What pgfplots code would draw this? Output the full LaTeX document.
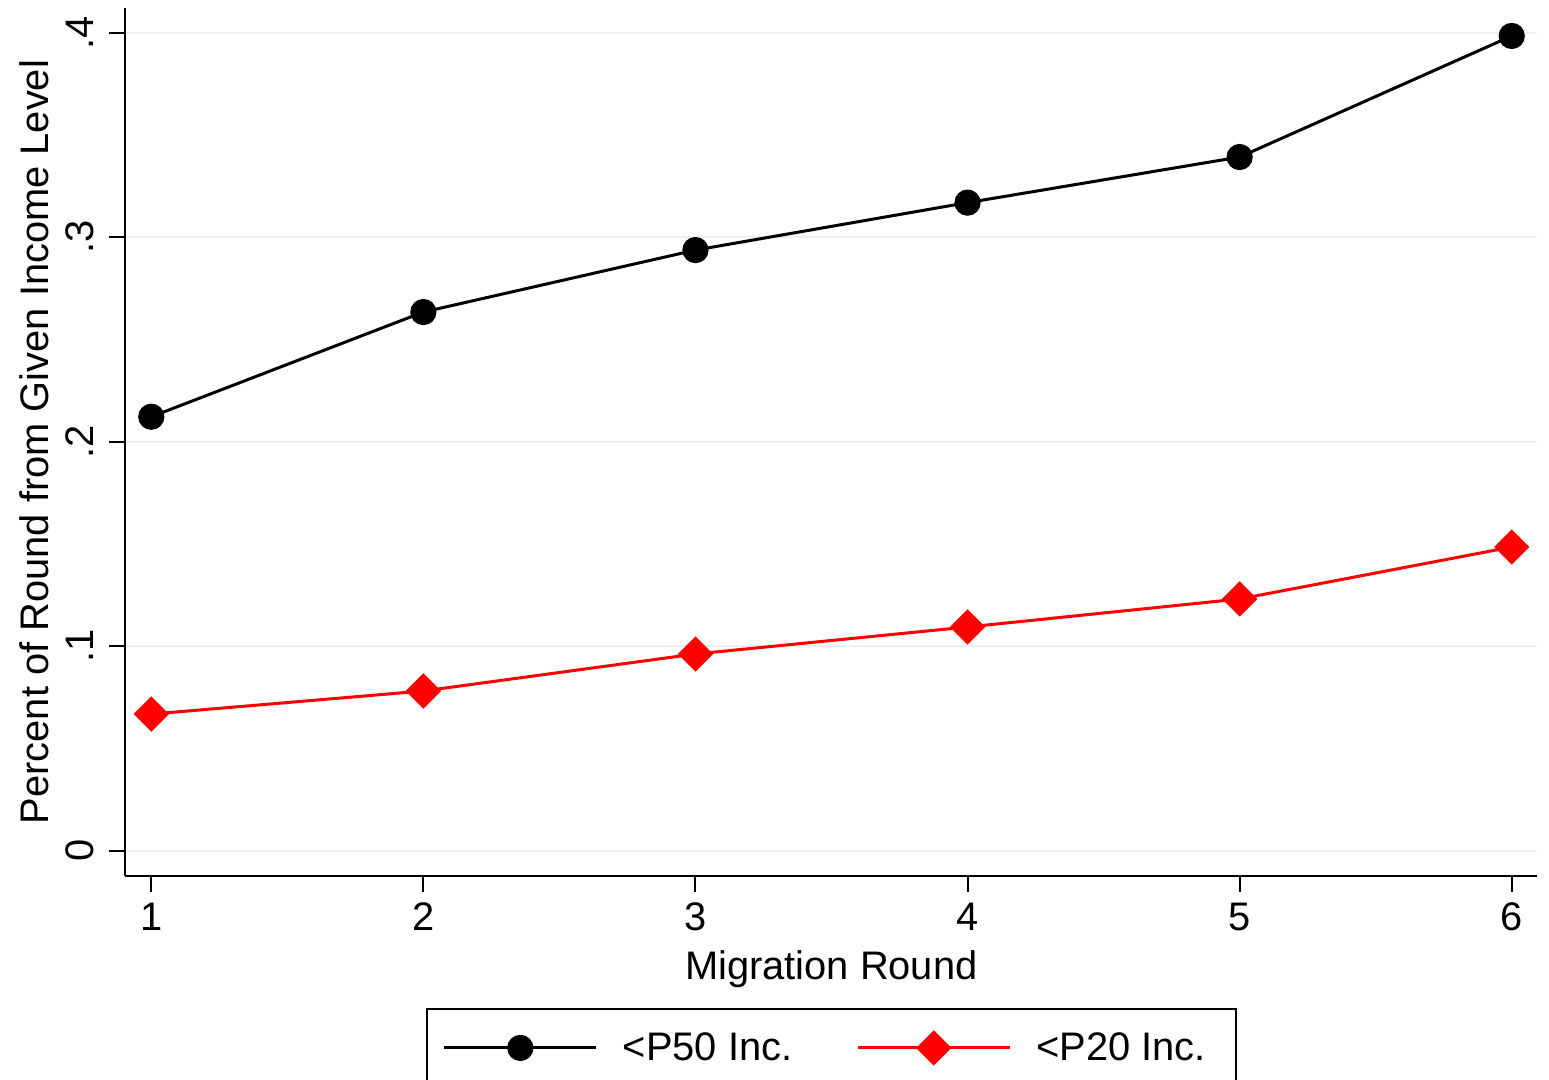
\documentclass[border=0pt]{standalone}
\usepackage{fontspec}
\setmainfont{Liberation Sans}
\usepackage{pgfplots}
\pgfplotsset{compat=1.18}
\definecolor{gridc}{RGB}{234,241,243}
\begin{document}
\begin{tikzpicture}
\begin{axis}[
  at={(0,0)}, anchor=south west,
  scale only axis, width=706bp, height=434bp,
  xmin=0.9045, xmax=6.094, ymin=-0.01237, ymax=0.41208,
  axis x line*=bottom, axis y line*=left,
  axis line style={line width=1bp, black, -},
  xtick={1,2,3,4,5,6}, xticklabels={1,2,3,4,5,6},
  ytick={0,0.1,0.2,0.3,0.4}, yticklabels={0,.1,.2,.3,.4},
  tick align=outside, major tick length=8bp,
  tick style={line width=1bp, black},
  ymajorgrids, grid style={line width=1bp, gridc},
  font=\fontsize{20}{24}\selectfont,
  ticklabel style={font=\fontsize{20}{24}\selectfont},
  /pgf/number format/assume math mode=true,
  yticklabel style={rotate=90, anchor=base, yshift=8bp},
  xticklabel style={anchor=base, yshift=-19bp},
  xlabel={Migration Round},
  ylabel={Percent of Round from Given Income Level},
  xlabel style={at={(axis description cs:0.5,-0.1187)}, anchor=base},
  ylabel style={at={(axis description cs:-0.0545,0.5)}, anchor=base, rotate=0},
  legend columns=2,
  legend style={at={(0.5,-0.1525)}, anchor=north, draw=black, line width=1bp,
    inner xsep=8bp, inner ysep=11.5bp,
    font=\fontsize{20}{24}\selectfont,
    nodes={inner sep=0pt},
    /tikz/every odd column/.append style={column sep=12.5bp},
    /tikz/every even column/.append style={column sep=32bp}},
  legend image code/.code={\draw[mark repeat=2,mark phase=2,#1] plot coordinates {(0bp,0bp) (38bp,0bp) (76bp,0bp)};},
]
\addplot[black, line width=1.5bp, mark=*, mark size=5.8bp] coordinates {
(1,0.2122) (2,0.2634) (3,0.2937) (4,0.3169) (5,0.3392) (6,0.3984)};
\addlegendentry{<P50 Inc.}
\addplot[red, line width=1.5bp, mark=square*, mark size=5.5bp, mark options={rotate=45}] coordinates {
(1,0.0668) (2,0.0781) (3,0.0962) (4,0.1094) (5,0.1231) (6,0.1485)};
\addlegendentry{<P20 Inc.\rule{7bp}{0pt}}
\end{axis}
\pgfresetboundingbox
\path[use as bounding box] (-62.65bp,-102bp) rectangle (711.85bp,438bp);
\end{tikzpicture}
\end{document}
